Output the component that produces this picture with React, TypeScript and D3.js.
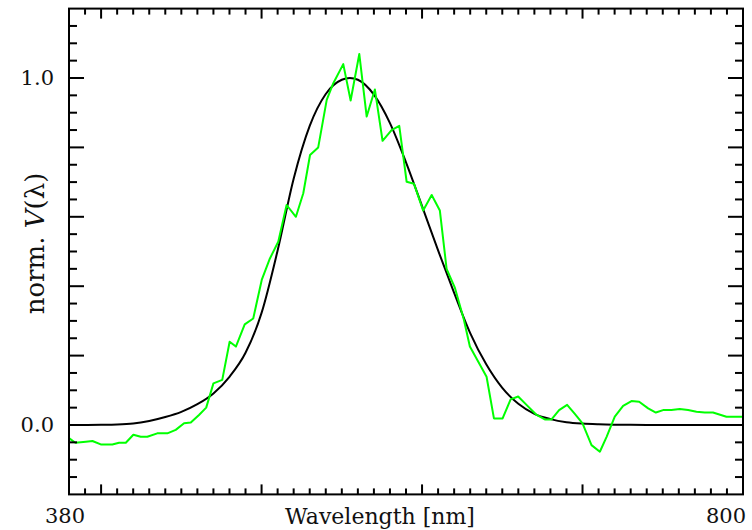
import React from "react";
import * as d3 from "d3";

// Black curve: wavelengths (nm) and values
const refWavelengths = [380, 390, 400, 410, 420, 430, 440, 450, 460, 470, 480, 490, 500, 510, 520, 530, 540, 550, 555, 560, 570, 580, 590, 600, 610, 620, 630, 640, 650, 660, 670, 680, 690, 700, 710, 720, 730, 740, 750, 760, 770, 780, 790, 800];
const refValues = [0, 0.0001, 0.0004, 0.0012, 0.004, 0.0116, 0.023, 0.038, 0.06, 0.091, 0.139, 0.208, 0.323, 0.503, 0.71, 0.862, 0.954, 0.995, 1.0, 0.995, 0.952, 0.87, 0.757, 0.631, 0.503, 0.381, 0.265, 0.175, 0.107, 0.061, 0.032, 0.017, 0.0082, 0.0041, 0.0021, 0.001, 0.0005, 0.0002, 0.0001, 0, 0, 0, 0, 0];

// Green measured curve
const measWavelengths = [380, 384, 390.5, 394.6, 399.8, 407, 411.2, 415.4, 420.1, 424.7, 428.8, 435, 441.3, 446.5, 451.7, 455.9, 461, 465.5, 470, 475.5, 480.1, 484, 489.5, 494.8, 500.1, 505.2, 510.4, 515.6, 521.4, 526, 530.2, 535.3, 540.6, 544.7, 550.9, 555.5, 560.9, 565.5, 570.6, 575.4, 581, 585.8, 590.4, 595, 600.7, 606, 611.1, 615.3, 620.5, 626, 629.8, 640.2, 644.8, 650.2, 655.2, 659.9, 665.1, 671.4, 676.5, 680.7, 685.4, 690.4, 695.2, 700, 705.6, 710.8, 715, 720.1, 725.3, 730.5, 735.3, 740.9, 745.7, 750.2, 755.4, 760.6, 765.8, 771, 776.2, 781.3, 789.7, 800];
const measValues = [-0.038, -0.051, -0.048, -0.046, -0.056, -0.056, -0.051, -0.051, -0.028, -0.034, -0.034, -0.024, -0.024, -0.014, 0.005, 0.007, 0.029, 0.05, 0.12, 0.13, 0.24, 0.226, 0.29, 0.307, 0.418, 0.48, 0.528, 0.634, 0.6, 0.668, 0.778, 0.8, 0.937, 0.985, 1.04, 0.935, 1.069, 0.889, 0.967, 0.819, 0.85, 0.862, 0.701, 0.695, 0.618, 0.663, 0.618, 0.45, 0.395, 0.305, 0.226, 0.139, 0.019, 0.019, 0.074, 0.082, 0.058, 0.029, 0.016, 0.016, 0.043, 0.058, 0.032, 0.005, -0.058, -0.077, -0.034, 0.024, 0.055, 0.069, 0.067, 0.048, 0.036, 0.043, 0.043, 0.046, 0.043, 0.038, 0.036, 0.036, 0.024, 0.024];

const xDomain = [380, 800];
const yDomain = [-0.2, 1.2];
const xTickLabels = ["380", "800"];
const yTickLabels = ["0.0", "1.0"];

const W = 752;
const H = 530;
const FONT = "'DejaVu Serif', serif";

export default function App() {
  const left = 69, right = 743, top = 8.6, bottom = 494.4;
  const x = d3.scaleLinear().domain(xDomain).range([left, right]);
  const y = d3.scaleLinear().domain(yDomain).range([bottom, top]);

  const refPts = refWavelengths.map((w, i) => [w, refValues[i]] as [number, number]);
  const measPts = measWavelengths.map((w, i) => [w, measValues[i]] as [number, number]);
  const refLine = d3.line<[number, number]>().x(d => x(d[0])).y(d => y(d[1])).curve(d3.curveMonotoneX);
  const measLine = d3.line<[number, number]>().x(d => x(d[0])).y(d => y(d[1]));

  const xTicks = d3.range(390, 800, 10);
  const yTicks = d3.range(-0.15, 1.2, 0.05).map(v => Math.round(v * 100) / 100);
  const isMajorX = (v: number) => v % 100 === 0;
  const isMajorY = (v: number) => Math.abs(v * 5 - Math.round(v * 5)) < 1e-6 && v >= 0 && v <= 1;

  return (
    <svg width={W} height={H} style={{ position: "absolute", left: 0, top: 0, background: "#fff" }} fontFamily={FONT}>
      <rect x={0} y={0} width={W} height={H} fill="#fff" />
      <defs>
        <clipPath id="plot">
          <rect x={left} y={top} width={right - left} height={bottom - top} />
        </clipPath>
      </defs>
      <g clipPath="url(#plot)">
        <path d={refLine(refPts) || ""} fill="none" stroke="#000" strokeWidth={2} />
        <path d={measLine(measPts) || ""} fill="none" stroke="#00ff00" strokeWidth={2} strokeLinejoin="round" />
      </g>
      <g stroke="#000" strokeWidth={2}>
        {xTicks.map(t => {
          const len = isMajorX(t) ? 10 : 6;
          return (
            <g key={"x" + t}>
              <line x1={x(t)} x2={x(t)} y1={bottom} y2={bottom - len} />
              <line x1={x(t)} x2={x(t)} y1={top} y2={top + len} />
            </g>
          );
        })}
        {yTicks.map(t => {
          const len = isMajorY(t) ? 15 : 8;
          return (
            <g key={"y" + t}>
              <line x1={left} x2={left + len} y1={y(t)} y2={y(t)} />
              <line x1={right} x2={right - len} y1={y(t)} y2={y(t)} />
            </g>
          );
        })}
      </g>
      <rect x={left} y={top} width={right - left} height={bottom - top} fill="none" stroke="#000" strokeWidth={2} />
      <g fontSize={21} fill="#111">
        <text x={x(xDomain[0]) - 4} y={523} textAnchor="middle">{xTickLabels[0]}</text>
        <text x={746} y={523} textAnchor="end">{xTickLabels[1]}</text>
        <text x={54} y={y(0)} dy="0.35em" textAnchor="end">{yTickLabels[0]}</text>
        <text x={54} y={y(1)} dy="0.35em" textAnchor="end">{yTickLabels[1]}</text>
      </g>
      <text x={380} y={524} textAnchor="middle" fontSize={22} fill="#111">Wavelength [nm]</text>
      <text transform={`translate(44, ${(top + bottom) / 2 - 8}) rotate(-90)`} textAnchor="middle" fontSize={26} fill="#111">
        norm. <tspan fontStyle="italic">V</tspan>(λ)
      </text>
    </svg>
  );
}
